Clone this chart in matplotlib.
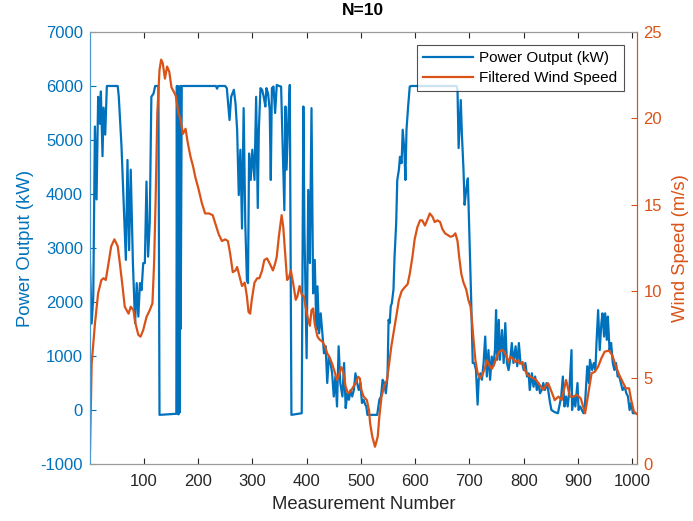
import numpy as np
import matplotlib.pyplot as plt

power_x = [1, 4, 7, 10, 13, 16, 19, 21, 24, 26, 29, 32, 52, 54, 59, 64, 67, 70, 73, 76,
           80, 84, 87, 90, 93, 96, 99, 102, 105, 108, 111, 114, 118, 121, 127, 129, 145, 160,
           161, 162, 163, 164, 165, 166, 167, 168, 170, 233, 235, 237, 250,
           253, 258, 261, 266, 269, 272, 275, 278, 281, 284, 287, 290, 292, 294, 297, 300,
           304, 307, 310, 312, 315, 318, 321, 324, 326, 329, 332, 334, 336, 339, 342, 345,
           349, 353, 356, 359, 361, 363, 366, 369, 372, 391, 394, 396, 400, 403, 406, 409,
           412, 415, 418, 420, 423, 426, 429, 432, 435, 438, 441, 444, 447, 450, 453, 456,
           459, 462, 466, 469, 472, 475, 478, 481, 484, 487, 490, 493, 496, 499, 502, 505,
           508, 510, 512, 530, 534, 537, 540, 543, 546, 549, 551, 553, 555, 557, 560, 562,
           565, 567, 570, 572, 575, 577, 580, 582, 584, 587, 590, 593, 676, 678, 680, 684,
           686, 689, 691, 694, 697, 700, 703, 706, 709, 712, 715, 717, 720, 723, 726, 729,
           732, 735, 738, 741, 744, 747, 749, 751, 754, 756, 760, 763, 766, 769, 772, 775,
           778, 781, 785, 788, 791, 794, 797, 800, 803, 806, 809, 811, 815, 818, 821, 824,
           827, 830, 833, 836, 839, 842, 845, 848, 851, 857, 863, 869, 872, 875, 878, 881,
           884, 888, 889, 892, 895, 899, 901, 904, 907, 910, 913, 917, 920, 922, 926, 929,
           932, 934, 937, 940, 943, 945, 948, 950, 953, 955, 958, 961, 964, 967, 970, 973,
           976, 979, 982, 986, 989, 992, 995, 998, 1001, 1005]
power_y = [2700, 1600, 2100, 5250, 3900, 5800, 5300, 5900, 4700, 5600, 5100, 6000, 6000, 5800,
           4880, 3580, 2780, 4630, 2960, 4450, 2720, 1610, 2350, 1730, 2350, 2220, 2720, 2720,
           4230, 2840, 3460, 5800, 5860, 6000, 6000, -90, -80, -70,
           6000, -60, 6000, -80, 5900, -50, 6000, 1500, 6000, 6000, 5950, 6000, 6000,
           5960, 5370, 5800, 5930, 5680, 5190, 3980, 4820, 3360, 5590, 3460, 2410, 2350, 4750,
           4260, 4820, 4260, 5800, 3740, 5190, 5960, 5930, 5800, 5620, 5960, 5860, 5560, 4260,
           5960, 5990, 5500, 6020, 6000, 5990, 4880, 3700, 5620, 4450, 5310, 6020, -90, -60,
           5620, 3330, 960, 4075, 2720, 5590, 2160, 2780, 1480, 2290, 1420, 1790, 1420, 1050,
           1180, 500, 990, 870, 680, 250, 620, 65, 1180, 500, 250, 870, 35, 310, 190, 370, 250,
           370, 680, 500, 370, 500, 130, 190, 100, 65, -90, -90, 190, 250, 560, 500, 310, 620,
           1670, 1610, 1920, 1980, 2230, 2840, 3460, 4260, 4450, 4690, 4570, 5190, 4820, 4260,
           5190, 5620, 5990, 6000, 6000, 5930, 4850, 5740, 5120, 4450, 3800, 4075, 4290, 3210,
           2100, 870, 870, 740, 100, 560, 680, 560, 870, 1360, 620, 1110, 560, 990, 810, 1110,
           1850, 930, 1670, 930, 1480, 870, 1610, 870, 740, 930, 1240, 870, 1180, 810, 1240,
           870, 870, 740, 870, 620, 680, 370, 680, 430, 620, 370, 500, 310, 370, 500, 370, 500,
           370, 160, 0, -40, -60, 250, 620, 65, 250, 65, 370, 1110, 0, 250, 65, 500, 0, 65, 0,
           -60, 130, 810, 500, 930, 740, 870, 740, 1240, 1850, 1110, 1610, 1790, 1360, 1790,
           1300, 1730, 1110, 1240, 870, 740, 870, 620, 620, 500, 370, 430, 310, 250, 0, 130,
           -60, -60]

wind_x = [1, 4, 10, 16, 22, 26, 30, 35, 40, 46, 52, 56, 61, 65, 72, 76, 81, 85, 90, 94, 99,
          105, 111, 116, 119, 122, 125, 129, 132, 135, 139, 143, 147, 151, 156, 159, 164,
          168, 172, 177, 181, 186, 191, 195, 201, 207, 213, 220, 227, 232, 238, 244, 250,
          255, 259, 264, 269, 272, 277, 281, 286, 290, 293, 296, 299, 304, 309, 313, 318,
          322, 327, 332, 338, 342, 345, 349, 354, 357, 360, 364, 367, 371, 375, 380, 383,
          387, 391, 395, 398, 402, 406, 409, 412, 415, 420, 424, 429, 434, 438, 442, 447,
          451, 456, 461, 464, 467, 472, 476, 481, 486, 490, 495, 498, 501, 505, 511, 515,
          517, 521, 526, 531, 534, 538, 543, 548, 552, 556, 561, 566, 570, 575, 580, 586,
          590, 595, 599, 604, 609, 613, 618, 622, 627, 632, 636, 641, 646, 650, 655, 660,
          665, 670, 674, 678, 681, 685, 689, 694, 698, 702, 705, 708, 711, 715, 720, 725,
          729, 732, 737, 741, 746, 750, 755, 760, 764, 767, 772, 775, 780, 785, 789, 793,
          798, 802, 807, 813, 818, 823, 827, 832, 836, 841, 845, 851, 857, 864, 870, 878,
          885, 891, 898, 905, 913, 919, 925, 931, 937, 943, 949, 957, 963, 970, 976, 982,
          988, 994, 998, 1003, 1008]
wind_y = [0.8, 5.8, 8.1, 9.9, 10.65, 10.75, 10.65, 11.6, 12.6, 13.0, 12.6, 11.6, 10.25, 9.1,
          8.7, 9.1, 8.9, 8.1, 7.47, 7.37, 7.75, 8.5, 8.9, 9.3, 11.6, 15.5, 20.3, 22.8, 23.4,
          23.2, 22.3, 23.0, 22.7, 21.8, 21.5, 21.3, 20.3, 19.9, 19.1, 19.4, 18.6, 17.8, 17.2,
          16.6, 15.9, 15.1, 14.5, 14.5, 14.4, 13.9, 13.3, 12.9, 13.0, 12.9, 12.2, 11.1, 11.2,
          11.4, 10.8, 10.3, 10.5, 9.7, 8.8, 8.7, 9.5, 10.5, 10.75, 10.75, 11.2, 11.8, 11.9,
          11.6, 11.2, 11.6, 12.0, 13.2, 14.4, 13.7, 12.4, 10.65, 10.75, 11.2, 10.5, 9.5, 9.7,
          10.3, 9.8, 9.7, 9.1, 8.5, 8.0, 8.9, 9.0, 8.1, 7.37, 7.2, 7.08, 6.8, 6.4, 6.2, 5.8,
          5.4, 4.86, 5.3, 5.6, 5.4, 4.47, 4.1, 4.2, 4.47, 4.67, 5.05, 4.96, 4.28, 3.9, 3.7,
          3.1, 2.35, 1.58, 1.0, 1.58, 2.74, 3.9, 4.5, 4.86, 5.8, 6.8, 7.75, 8.7, 9.5, 10.0,
          10.2, 10.4, 11.0, 12.0, 13.0, 13.7, 14.1, 14.1, 13.8, 14.1, 14.5, 14.3, 14.0, 14.1,
          14.0, 13.6, 13.35, 13.25, 13.15, 13.2, 13.35, 12.9, 12.0, 11.0, 10.5, 10.1, 9.5,
          9.1, 8.14, 7.0, 6.0, 5.25, 4.96, 5.25, 5.6, 6.0, 5.7, 5.5, 5.8, 6.2, 6.5, 6.6, 6.5,
          6.3, 5.9, 6.2, 6.1, 5.9, 6.0, 5.8, 5.9, 5.44, 5.15, 5.05, 4.96, 4.86, 4.67, 4.47,
          4.3, 4.57, 4.67, 4.2, 3.7, 3.9, 3.7, 4.86, 3.9, 3.9, 4.0, 3.8, 2.93, 4.09, 5.25,
          5.34, 5.63, 6.12, 6.5, 6.56, 6.3, 5.63, 5.15, 4.76, 4.38, 4.38, 3.7, 3.03, 2.9]

blue = '#0072BD'
orange = '#D95319'
plt.rcParams['font.family'] = ['Liberation Sans', 'DejaVu Sans']
plt.rcParams['axes.unicode_minus'] = False

fig = plt.figure(figsize=(6.93, 5.21), dpi=100)
ax = fig.add_axes([0.1299, 0.1094, 0.7888, 0.8292])
ax2 = ax.twinx()

l1, = ax.plot(power_x, power_y, color=blue, lw=1.6)
l2, = ax2.plot(wind_x, wind_y, color=orange, lw=1.6)

ax.set_xlim(1, 1008)
ax.set_ylim(-1000, 7000)
ax2.set_ylim(0, 25)
ax.set_xticks(np.arange(100, 1001, 100))
ax.set_yticks(np.arange(-1000, 7001, 1000))
ax2.set_yticks(np.arange(0, 26, 5))

ax.tick_params(axis='x', direction='in', top=True, colors='#262626', labelsize=12, length=4, pad=7)
ax.tick_params(axis='y', direction='in', colors=blue, labelsize=12, length=4, pad=5)
ax2.tick_params(axis='y', direction='in', colors=orange, labelsize=12, length=4, pad=5)

for a in (ax, ax2):
    a.spines['top'].set_color('#9a9a9a')
    a.spines['bottom'].set_color('#9a9a9a')
    a.spines['left'].set_color('#4a9ad4')
    a.spines['right'].set_color(orange)
    for s in a.spines.values():
        s.set_linewidth(0.8)

ax.set_xlabel('Measurement Number', fontsize=13.3, color='#262626', labelpad=5)
ax.set_ylabel('Power Output (kW)', fontsize=13.3, color=blue, labelpad=5)
ax2.set_ylabel('Wind Speed (m/s)', fontsize=13.3, color=orange, labelpad=7)
ax.set_title('N=10', fontsize=12.5, fontweight='bold', pad=12)

leg = ax2.legend([l1, l2], ['Power Output (kW)', 'Filtered Wind Speed'], loc='upper right',
                 fontsize=11, frameon=True, fancybox=False, handlelength=3.3,
                 borderaxespad=0.85, borderpad=0.4, labelspacing=0.4, handletextpad=0.4)
leg.get_frame().set_edgecolor('#262626')
leg.get_frame().set_linewidth(0.8)

fig.savefig('out.png', dpi=100)
